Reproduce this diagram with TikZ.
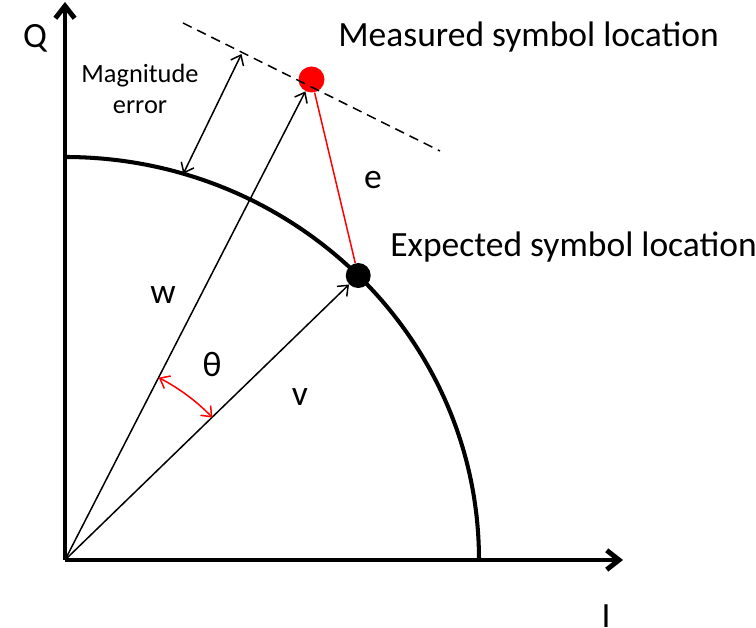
\documentclass[tikz,border=0pt]{standalone}
\usepackage{fontspec}
\setmainfont{Carlito}
\usepackage{tikz}
\usetikzlibrary{arrows.meta,calc,positioning}

\begin{document}
\begin{tikzpicture}[
  axis/.style={line width=2.8pt,-{Straight Barb[length=7pt,width=11pt]}},
  vec/.style={line width=0.85pt,-{Straight Barb[length=5pt,width=8pt]}},
  lbl/.style={font=\fontsize{20.2}{24}\selectfont,inner sep=0pt},
  dot/.style={circle,inner sep=0pt,minimum size=0.5cm}
]
  \useasboundingbox (-1.3,-1.36) rectangle (13.82,11.2);
  \coordinate (O) at (0,0);
  \coordinate (Itip) at (11.16,0);
  \coordinate (Qtip) at (0,11.16);
  \draw[axis] (O) -- (Itip);
  \draw[axis] (O) -- (Qtip);
  \node[lbl] (Ilab) at (10.82,-1.12) {I};
  \node[lbl] (Qlab) at (-0.6,10.44) {Q};
  % unit circle (quarter)
  \coordinate (top) at (0,8.06);
  \draw[line width=2.3pt] (top) arc[start angle=90,end angle=0,x radius=8.28,y radius=8.06];
  % symbols
  \node[dot,fill=black] (expc) at (44.9:8.28 and 8.06) {};
  \node[dot,fill=red,minimum size=0.52cm] (meas) at (4.93,9.61) {};
  \draw[vec] (O) -- (meas);
  \draw[vec] (O) -- (expc);
  \draw[red,line width=0.85pt] (meas) -- (expc);
  \node[lbl] (wlab) at (1.96,5.3) {w};
  \node[lbl] (vlab) at (4.7,3.26) {v};
  \node[lbl] (elab) at (6.16,7.6) {e};
  % angle
  \coordinate (thv) at (44:4.1);
  \draw[red,line width=0.85pt,{Straight Barb[length=5pt,width=8pt]}-{Straight Barb[length=5pt,width=8pt]}]
    (thv) arc[start angle=44,end angle=62.8,radius=4.1];
  \node[lbl] (thlab) at (2.94,3.9) {θ};
  % magnitude error
  \coordinate (dashA) at (2.36,10.74);
  \coordinate (dashB) at (7.5,8.18);
  \draw[line width=0.85pt,dash pattern=on 5.5pt off 3.5pt] (dashA) -- (dashB);
  \coordinate (magtop) at (3.53,10.12);
  \coordinate (magbot) at (73.4:8.28 and 8.06);
  \draw[vec,{Straight Barb[length=5pt,width=8pt]}-{Straight Barb[length=5pt,width=8pt]}] (magbot) -- (magtop);
  \node[font=\fontsize{15}{18}\selectfont,align=center,inner sep=0pt] (maglab) at (1.5,9.42) {Magnitude\\error};
  % captions
  \node[lbl,anchor=base west] (measlab) at (5.46,10.26) {Measured symbol location};
  \node[lbl,anchor=base west] (expclab) at (6.5,6.06) {Expected symbol location};
\end{tikzpicture}
\end{document}
